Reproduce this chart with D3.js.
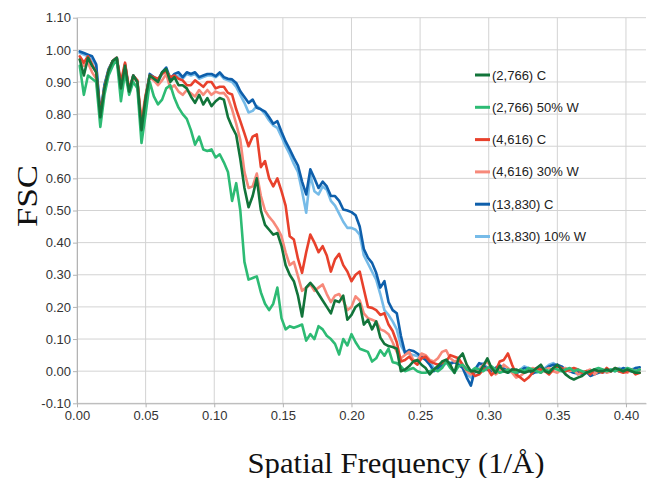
<!DOCTYPE html>
<html>
<head>
<meta charset="utf-8">
<script src="https://cdn.jsdelivr.net/npm/d3@7"></script>
<style>
  body { margin: 0; background: #fff; }
  svg { display: block; }
</style>
</head>
<body>
<svg id="viz"></svg>
<script>
// spatial frequency grid (1/A)
const freq = [
  0.002,0.005,0.008,0.011,0.014,0.017,0.020,0.023,0.026,0.029,
  0.032,0.035,0.038,0.041,0.044,0.047,0.050,0.053,0.056,0.059,
  0.062,0.065,0.068,0.071,0.074,0.077,0.080,0.083,0.086,0.089,
  0.092,0.095,0.098,0.101,0.104,0.107,0.110,0.113,0.116,0.119,
  0.122,0.125,0.128,0.131,0.134,0.137,0.140,0.143,0.146,0.149,
  0.152,0.155,0.158,0.161,0.164,0.167,0.170,0.173,0.176,0.179,
  0.182,0.185,0.188,0.191,0.194,0.197,0.200,0.203,0.206,0.209,
  0.212,0.215,0.218,0.221,0.224,0.227,0.230,0.233,0.236,0.239,
  0.242,0.245,0.248,0.251,0.254,0.257,0.260,0.263,0.266,0.269,
  0.272,0.275,0.278,0.281,0.284,0.287,0.290,0.293,0.296,0.299,
  0.302,0.305,0.308,0.311,0.314,0.317,0.320,0.323,0.326,0.329,
  0.332,0.335,0.338,0.341,0.344,0.347,0.350,0.353,0.356,0.359,
  0.362,0.365,0.368,0.371,0.374,0.377,0.380,0.383,0.386,0.389,
  0.392,0.395,0.398,0.401,0.404,0.407,0.410
];

const fsc2766C = [
  .97,.92,.975,.95,.93,.79,.88,.935,.965,.975,.88,.95,.87,.92,.90,.75,.85,
  .92,.91,.90,.93,.94,.90,.915,.89,.89,.88,
  .855,.835,.86,.83,.85,.825,.84,.85,.845,.79,
  .76,.735,.66,.57,.51,.545,.60,.50,.455,.44,
  .425,.43,.39,.33,.30,.28,.235,.17,.26,.275,
  .26,.24,.22,.20,.18,.22,.215,.235,.16,.175,
  .20,.21,.145,.16,.13,.155,.105,.085,.078,.075,
  .07,.0,.005,.015,.03,.035,.02,
  .01,-.01,.005,.016,.03,.036,.02,-.005,.04,.055,
  .02,.0,.0,-.005,.016,.04,.01,-.005,.016,.0,
  -.005,.005,.005,.0,-.005,.0,.0,.01,.02,.0,
  -.005,.01,.02,.005,-.01,-.02,-.026,-.02,-.015,-.005,
  .0,.005,.0,.0,.005,.0,.01,.005,.0,.005,
  .0,-.005,-.005
];

const fsc2766W = [
  .95,.86,.92,.91,.90,.76,.86,.92,.95,.97,.84,.93,.86,.90,.88,.71,.80,
  .90,.855,.83,.845,.88,.89,.85,.82,.80,.785,
  .75,.705,.73,.69,.685,.69,.665,.675,.65,.62,
  .53,.585,.50,.34,.285,.29,.295,.245,.21,.19,
  .21,.26,.165,.13,.14,.135,.14,.145,.095,.115,
  .10,.14,.13,.11,.10,.085,.052,.10,.08,.115,
  .09,.07,.065,.06,.03,.04,.065,.048,.07,.028,
  .025,.015,.0,.005,.01,.0,-.005,
  -.005,.0,.005,.0,.01,.03,.01,-.005,.015,.02,
  .005,.0,.01,.005,.0,.01,.015,.005,-.005,.0,
  .005,.0,-.005,.005,.0,.01,.005,.0,-.005,.005,
  .0,.01,.005,.0,.005,.01,.0,.005,.0,-.005,
  .0,.005,.01,.005,.0,.005,.0,.005,.0,.01,
  .005,.0,.005
];

const fsc4616C = [
  .98,.96,.98,.955,.93,.80,.88,.935,.965,.975,.90,.96,.875,.92,.905,.76,.855,
  .92,.915,.91,.925,.935,.915,.92,.91,.905,.89,
  .89,.905,.895,.885,.90,.90,.88,.885,.885,.866,
  .861,.815,.778,.74,.70,.73,.737,.635,.654,.60,
  .575,.60,.56,.515,.42,.41,.35,.306,.37,.425,
  .40,.37,.389,.36,.31,.348,.365,.33,.31,.28,
  .30,.31,.255,.20,.197,.19,.175,.18,.145,.125,
  .09,.03,.035,.045,.03,.02,.04,
  .045,.03,.025,.02,.025,.03,.05,.045,.04,.02,
  .005,.0,-.015,-.01,.005,.01,-.012,.0,.03,.035,
  .055,.02,-.01,-.02,-.03,-.02,-.005,.01,.005,.0,
  -.01,.005,.015,.01,.0,.005,.01,.005,-.005,.0,
  -.01,.005,.0,-.005,.01,.0,.005,.0,-.005,.0,
  .005,-.01,-.005
];

const fsc4616W = [
  .97,.95,.96,.93,.91,.79,.88,.935,.965,.975,.88,.955,.87,.915,.90,.78,.86,
  .915,.905,.89,.905,.925,.88,.89,.87,.86,.875,
  .865,.855,.875,.86,.875,.86,.87,.865,.866,.85,
  .815,.77,.72,.62,.57,.575,.615,.545,.50,.48,
  .465,.445,.42,.37,.33,.34,.296,.25,.26,.27,
  .25,.26,.27,.24,.215,.235,.24,.22,.19,.20,
  .233,.22,.18,.165,.16,.155,.13,.125,.115,.09,
  .06,.04,.05,.06,.035,.03,.055,
  .05,.035,.03,.04,.06,.065,.04,.03,.035,.02,
  .0,-.01,.0,.005,.02,.03,.01,-.01,.0,.02,
  .01,-.005,-.02,-.015,-.005,.0,.01,.005,-.005,.005,
  .01,.0,-.005,.005,.01,.0,.005,-.01,-.005,.0,
  .005,-.01,.0,.005,-.005,.0,.01,.005,.0,-.005,
  .005,.0,.005
];

const fsc13830C = [
  .995,.99,.985,.98,.955,.80,.89,.94,.965,.975,.88,.955,.87,.92,.90,.74,.85,
  .925,.915,.905,.93,.945,.91,.925,.93,.915,.93,
  .925,.93,.915,.92,.925,.925,.918,.93,.915,.91,
  .908,.897,.871,.853,.835,.845,.82,.815,.808,.79,
  .77,.778,.745,.715,.69,.664,.64,.59,.55,.628,
  .60,.57,.59,.575,.545,.545,.53,.503,.50,.495,
  .485,.45,.38,.353,.337,.306,.26,.28,.215,.19,
  .18,.11,.057,.066,.063,.055,.045,
  .035,.02,.0,.01,.02,.03,.025,.028,.02,.01,
  -.02,-.045,.005,.025,.02,.005,.0,.01,.018,.008,
  .0,.005,-.005,.0,.01,.005,-.008,.0,.01,.005,
  .015,.02,.02,.015,.005,.0,-.005,.0,-.01,.0,
  -.015,-.01,-.005,.0,.005,.0,.005,.0,.01,.005,
  .0,.01,.012
];

const fsc13830W = [
  .99,.985,.98,.97,.95,.80,.89,.935,.965,.975,.88,.955,.87,.92,.90,.75,.85,
  .92,.91,.90,.925,.94,.905,.915,.92,.91,.925,
  .92,.925,.91,.915,.92,.92,.915,.925,.91,.905,
  .90,.885,.86,.835,.805,.81,.825,.815,.80,.78,
  .765,.757,.73,.70,.675,.645,.62,.56,.493,.61,
  .56,.55,.575,.565,.53,.515,.49,.465,.446,.446,
  .44,.425,.36,.335,.31,.285,.24,.19,.175,.155,
  .13,.08,.057,.055,.05,.047,.04,
  .04,.03,.01,.005,.015,.025,.02,.03,.025,.015,
  -.01,-.02,.0,.02,.025,.01,.005,.0,.015,.005,
  -.005,.0,-.01,.005,.015,.01,.0,-.005,.005,.01,
  .02,.025,.015,.01,.0,.005,-.005,-.01,.0,-.005,
  -.01,.0,.005,-.005,.0,.005,.0,.01,.005,.0,
  .005,.01,.005
];

const seriesNames = ["(2,766) C", "(2,766) 50% W", "(4,616) C", "(4,616) 30% W", "(13,830) C", "(13,830) 10% W"];
const seriesValues = [fsc2766C, fsc2766W, fsc4616C, fsc4616W, fsc13830C, fsc13830W];
const seriesColors = ["#12743a", "#2dbb74", "#e8412c", "#f7897a", "#0e5fab", "#76bbe8"];

const xTicks = [0, 0.05, 0.10, 0.15, 0.20, 0.25, 0.30, 0.35, 0.40];
const yTicks = [-0.1, 0, 0.1, 0.2, 0.3, 0.4, 0.5, 0.6, 0.7, 0.8, 0.9, 1.0, 1.1];

const app = {
    init() {
        const series = seriesNames.map((name, k) => ({
            name: name,
            color: seriesColors[k],
            points: seriesValues[k].map((v, i) => ({ f: freq[i], v: v })).filter(d => d.f !== undefined)
        }));
        this.createGraph(series);
    },

    createGraph(series) {
        const width = 653;
        const height = 478;
        const left = 77, right = 646, top = 17.7, bottom = 403.3;

        this.svg = d3.select("#viz").attr("width", width).attr("height", height);

        const x = d3.scaleLinear().domain([0, 0.4146]).range([left, right]);
        const y = d3.scaleLinear().domain([-0.1, 1.1]).range([bottom, top]);

        // grid
        const grid = this.svg.append("g");
        grid.selectAll(".hg").data(yTicks).enter().append("line")
            .attr("x1", left).attr("x2", right).attr("y1", d => y(d)).attr("y2", d => y(d))
            .attr("stroke", "#d3d3d3").attr("stroke-width", 1);
        grid.selectAll(".vg").data(xTicks).enter().append("line")
            .attr("x1", d => x(d)).attr("x2", d => x(d)).attr("y1", top).attr("y2", bottom)
            .attr("stroke", "#d3d3d3").attr("stroke-width", 1);

        // axes
        const xAxis = this.svg.append("g").attr("transform", `translate(0, ${bottom})`)
            .call(d3.axisBottom(x).tickValues(xTicks).tickFormat(d3.format(".2f")).tickSize(4).tickSizeOuter(0).tickPadding(3));
        const yAxis = this.svg.append("g").attr("transform", `translate(${left}, 0)`)
            .call(d3.axisLeft(y).tickValues(yTicks).tickFormat(d3.format(".2f")).tickSize(4).tickSizeOuter(0).tickPadding(2));
        [xAxis, yAxis].forEach(a => {
            a.select(".domain").attr("stroke", "#b3b3b3");
            a.selectAll(".tick line").attr("stroke", "#b3b3b3");
            a.selectAll(".tick text").attr("fill", "#333").style("font-family", "'Liberation Sans', Arial, sans-serif").style("font-size", "13px");
        });
        yAxis.selectAll(".tick text").text(d => d3.format(".2f")(d).replace("−", "-"));

        // lines, drawn bottom to top in reverse legend order
        const line = d3.line().x(d => x(d.f)).y(d => y(d.v));
        this.svg.append("g").selectAll("path").data(series.slice().reverse()).enter().append("path")
            .attr("d", d => line(d.points))
            .attr("fill", "none")
            .attr("stroke", d => d.color)
            .attr("stroke-width", 2.6)
            .attr("stroke-linejoin", "round")
            .attr("stroke-linecap", "round");

        // legend
        const legend = this.svg.append("g").attr("transform", "translate(475, 75)");
        const items = legend.selectAll("g").data(series).enter().append("g")
            .attr("transform", (d, i) => `translate(0, ${i * 32.3})`);
        items.append("line").attr("x1", 0).attr("x2", 15).attr("y1", 0).attr("y2", 0)
            .attr("stroke", d => d.color).attr("stroke-width", 3);
        items.append("text").attr("x", 17).attr("y", 0).attr("dy", "0.35em")
            .text(d => d.name)
            .attr("fill", "#222")
            .style("font-family", "'Liberation Sans', Arial, sans-serif").style("font-size", "13px");

        // axis titles
        this.svg.append("text").attr("x", 396).attr("y", 473).attr("text-anchor", "middle")
            .attr("textLength", 297).attr("lengthAdjust", "spacingAndGlyphs")
            .style("font-family", "'Liberation Serif', 'DejaVu Serif', serif").style("font-size", "29px").attr("fill", "#111")
            .text("Spatial Frequency (1/Å)");
        this.svg.append("text").attr("transform", "translate(37, 196) rotate(-90)").attr("text-anchor", "middle")
            .attr("textLength", 62).attr("lengthAdjust", "spacingAndGlyphs")
            .style("font-family", "'Liberation Serif', 'DejaVu Serif', serif").style("font-size", "29px").attr("fill", "#111")
            .text("FSC");
    }
}

window.addEventListener("DOMContentLoaded", () => app.init())
</script>
</body>
</html>
